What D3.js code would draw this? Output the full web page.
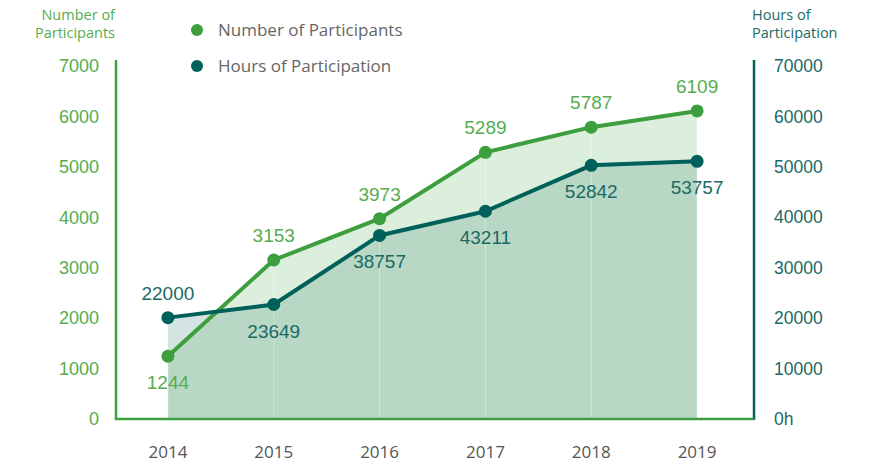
<!DOCTYPE html>
<html>
<head>
<meta charset="utf-8">
<script src="https://cdn.jsdelivr.net/npm/d3@7"></script>
<style>
  html, body { margin: 0; padding: 0; background: #fff; }
  svg { display: block; }
</style>
</head>
<body>
<div id="chart"></div>
<script>
// --- DATA ---
const years = ["2014", "2015", "2016", "2017", "2018", "2019"];
const participants = [1244, 3153, 3973, 5289, 5787, 6109];
// hours as drawn in the picture (positions), and the printed labels
const hoursPlotted = [20100, 22700, 36400, 41200, 50300, 51100];
const hoursLabels = [22000, 23649, 38757, 43211, 52842, 53757];
const leftTicks = [0, 1000, 2000, 3000, 4000, 5000, 6000, 7000];
const rightTicks = [0, 10000, 20000, 30000, 40000, 50000, 60000, 70000];
const seriesNames = ["Number of Participants", "Hours of Participation"];

// --- STYLE ---
const width = 884, height = 465;
const green = "#3d9e3d", greenText = "#55ad4f";
const teal = "#00605a", tealText = "#1a6a64";
const grey = "#666";
const numFont = "'Liberation Sans', Arial, sans-serif";
const txtFont = "'Open Sans', sans-serif";

const plot = {left: 116, right: 754, top: 60, bottom: 419};

const svg = d3.select("#chart").append("svg")
    .attr("width", width)
    .attr("height", height);

const x = d3.scaleBand().domain(years).range([115, 750]);
const cx = d => x(d) + x.bandwidth() / 2;
const yLeft = d3.scaleLinear().domain([0, 7000]).range([plot.bottom, 66]);
const yRight = d3.scaleLinear().domain([0, 70000]).range([plot.bottom, 66]);

// --- AREAS ---
const hoursArea = d3.area()
    .x((d, i) => cx(years[i]))
    .y0(plot.bottom)
    .y1(d => yRight(d));
const partArea = d3.area()
    .x((d, i) => cx(years[i]))
    .y0(plot.bottom)
    .y1(d => yLeft(d));

svg.append("path")
    .attr("d", hoursArea(hoursPlotted))
    .attr("fill", teal)
    .attr("fill-opacity", 0.17);
svg.append("path")
    .attr("d", partArea(participants))
    .attr("fill", green)
    .attr("fill-opacity", 0.18);

// faint vertical year lines inside the fill
svg.selectAll(".yearLine")
    .data(years)
    .join("line")
    .attr("class", "yearLine")
    .attr("x1", d => cx(d)).attr("x2", d => cx(d))
    .attr("y1", plot.bottom)
    .attr("y2", (d, i) => yLeft(participants[i]))
    .attr("stroke", "#fff")
    .attr("stroke-opacity", 0.35)
    .attr("stroke-width", 1);

// --- FRAME ---
svg.append("line")
    .attr("x1", plot.left).attr("x2", plot.left)
    .attr("y1", plot.top).attr("y2", plot.bottom + 1)
    .attr("stroke", green).attr("stroke-width", 2.5);
svg.append("line")
    .attr("x1", plot.right).attr("x2", plot.right)
    .attr("y1", plot.top).attr("y2", plot.bottom + 1)
    .attr("stroke", teal).attr("stroke-width", 2.5);
svg.append("line")
    .attr("x1", plot.left - 1).attr("x2", plot.right)
    .attr("y1", plot.bottom).attr("y2", plot.bottom)
    .attr("stroke", green).attr("stroke-width", 2.5);

// --- AXES ---
const axisL = svg.append("g")
    .attr("transform", `translate(${plot.left - 17},0)`)
    .call(d3.axisLeft(yLeft).tickValues(leftTicks).tickSize(0).tickPadding(0)
        .tickFormat(d3.format("d")));
axisL.select(".domain").remove();
axisL.selectAll("text")
    .attr("fill", greenText)
    .attr("font-family", numFont)
    .attr("font-size", 18);

const axisR = svg.append("g")
    .attr("transform", `translate(${plot.right + 20},0)`)
    .call(d3.axisRight(yRight).tickValues(rightTicks).tickSize(0).tickPadding(0)
        .tickFormat(d => d === 0 ? "0h" : d));
axisR.select(".domain").remove();
axisR.selectAll("text")
    .attr("fill", tealText)
    .attr("font-family", numFont)
    .attr("font-size", 17.5);

const axisB = svg.append("g")
    .attr("transform", `translate(0,${plot.bottom})`)
    .call(d3.axisBottom(x).tickSize(0).tickPadding(27));
axisB.select(".domain").remove();
axisB.selectAll("text")
    .attr("fill", "#555")
    .attr("font-family", txtFont)
    .attr("font-size", 17);

// axis titles
svg.append("text")
    .attr("x", 115).attr("y", 20)
    .attr("text-anchor", "end")
    .attr("fill", greenText)
    .attr("font-family", txtFont)
    .attr("font-size", 14.5)
    .selectAll("tspan")
    .data(["Number of", "Participants"])
    .join("tspan")
    .attr("x", 115)
    .attr("dy", (d, i) => i ? 18 : 0)
    .text(d => d);

svg.append("text")
    .attr("x", 752).attr("y", 20)
    .attr("fill", tealText)
    .attr("font-family", txtFont)
    .attr("font-size", 14.5)
    .selectAll("tspan")
    .data(["Hours of", "Participation"])
    .join("tspan")
    .attr("x", 752)
    .attr("dy", (d, i) => i ? 18 : 0)
    .text(d => d);

// --- LINES ---
const partLine = d3.line().x((d, i) => cx(years[i])).y(d => yLeft(d));
const hoursLine = d3.line().x((d, i) => cx(years[i])).y(d => yRight(d));

svg.append("path")
    .attr("d", partLine(participants))
    .attr("fill", "none")
    .attr("stroke", green)
    .attr("stroke-width", 4);
svg.append("path")
    .attr("d", hoursLine(hoursPlotted))
    .attr("fill", "none")
    .attr("stroke", teal)
    .attr("stroke-width", 4);

svg.selectAll(".partDot")
    .data(participants)
    .join("circle")
    .attr("class", "partDot")
    .attr("cx", (d, i) => cx(years[i]))
    .attr("cy", d => yLeft(d))
    .attr("r", 6.5)
    .attr("fill", green);
svg.selectAll(".hoursDot")
    .data(hoursPlotted)
    .join("circle")
    .attr("class", "hoursDot")
    .attr("cx", (d, i) => cx(years[i]))
    .attr("cy", d => yRight(d))
    .attr("r", 6.5)
    .attr("fill", teal);

// --- VALUE LABELS ---
svg.selectAll(".partLabel")
    .data(participants)
    .join("text")
    .attr("class", "partLabel")
    .attr("x", (d, i) => cx(years[i]))
    .attr("y", (d, i) => yLeft(d) + (i === 0 ? 33 : -18))
    .attr("text-anchor", "middle")
    .attr("fill", greenText)
    .attr("font-family", numFont)
    .attr("font-size", 19)
    .text(d => d);

svg.selectAll(".hoursLabel")
    .data(hoursLabels)
    .join("text")
    .attr("class", "hoursLabel")
    .attr("x", (d, i) => cx(years[i]))
    .attr("y", (d, i) => yRight(hoursPlotted[i]) + (i === 0 ? -18 : 33))
    .attr("text-anchor", "middle")
    .attr("fill", tealText)
    .attr("font-family", numFont)
    .attr("font-size", 19)
    .text(d => d);

// --- LEGEND ---
const legend = svg.selectAll(".legendItem")
    .data(seriesNames)
    .join("g")
    .attr("class", "legendItem")
    .attr("transform", (d, i) => `translate(197,${30 + i * 36})`);
legend.append("circle")
    .attr("r", 6)
    .attr("fill", (d, i) => i ? teal : green);
legend.append("text")
    .attr("x", 21)
    .attr("y", 6)
    .attr("fill", grey)
    .attr("font-family", txtFont)
    .attr("font-size", 17)
    .text(d => d);
</script>
</body>
</html>
